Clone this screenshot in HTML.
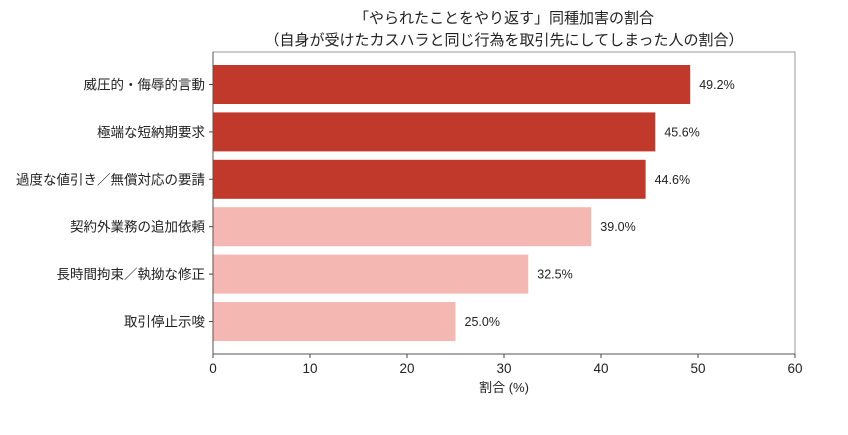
<!DOCTYPE html>
<html><head><meta charset="utf-8"><style>
body{margin:0;background:#fff;}
text{font-family:"Liberation Sans","Noto Sans CJK JP",sans-serif;fill:#222;}
</style></head><body>
<svg id="chart" width="848" height="430" xmlns="http://www.w3.org/2000/svg">
<text x="504" y="23" font-size="15" text-anchor="middle">「やられたことをやり返す」同種加害の割合</text>
<text x="504" y="45" font-size="15" text-anchor="middle">（自身が受けたカスハラと同じ行為を取引先にしてしまった人の割合）</text>
<rect x="213" y="52" width="582" height="302" fill="none" stroke="#999" stroke-width="1"/>
<g id="bars"></g><g id="axes"></g>
<text x="504" y="392" font-size="13" text-anchor="middle">割合 (%)</text>
</svg>
<script>
const categories=["威圧的・侮辱的言動","極端な短納期要求","過度な値引き／無償対応の要請","契約外業務の追加依頼","長時間拘束／執拗な修正","取引停止示唆"];
const values=[49.2,45.6,44.6,39.0,32.5,25.0];
const highlight=[true,true,true,false,false,false];
const xTicks=[0,10,20,30,40,50,60];
const NS="http://www.w3.org/2000/svg";
const x=v=>213+v*(582/60);
const y=i=>84.5+i*47.4;
const bars=document.getElementById('bars'),axes=document.getElementById('axes');
function mk(tag,attrs,parent,txt){const e=document.createElementNS(NS,tag);for(const k in attrs)e.setAttribute(k,attrs[k]);if(txt!==undefined)e.textContent=txt;parent.appendChild(e);return e;}
values.forEach((v,i)=>{
 const r=mk('rect',{x:x(0),y:y(i)-19.5,width:x(v)-x(0),height:39,fill:highlight[i]?'#c0392b':'#f5b7b1'},bars);
 
 
 const t=mk('text',{x:x(v)+9,y:y(i)+4.5,'font-size':'12.5'},bars,v.toFixed(1)+'%');
 
 
 const l=mk('text',{x:205,y:y(i)+5,'font-size':'13.5','text-anchor':'end'},axes,categories[i]);
 
 
 mk('line',{x1:209,x2:213,y1:y(i),y2:y(i),stroke:'#444'},axes);
});
xTicks.forEach(t=>{
 mk('line',{x1:x(t),x2:x(t),y1:354,y2:358,stroke:'#444'},axes);
 const e=mk('text',{x:x(t),y:373,'font-size':'13.5','text-anchor':'middle'},axes,String(t));
 
 
});
mk('line',{x1:213,x2:213,y1:52,y2:354,stroke:'#555'},axes);
mk('line',{x1:213,x2:795,y1:354,y2:354,stroke:'#555'},axes);
</script>
</body></html>
